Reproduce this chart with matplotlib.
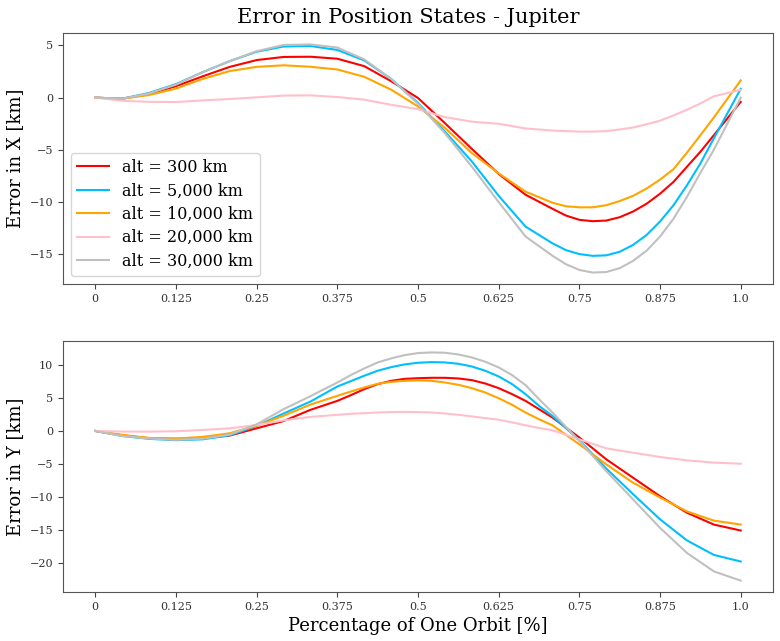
import matplotlib
matplotlib.use("Agg")
import matplotlib.pyplot as plt

plt.rcParams['font.family'] = ['DejaVu Serif']

labels = ["alt = 300 km", "alt = 5,000 km", "alt = 10,000 km",
          "alt = 20,000 km", "alt = 30,000 km"]
colors = ["red", "deepskyblue", "orange", "pink", "silver"]

# sample positions (fraction of one orbit) for the X-error panel
frac_top = [0.0, 0.041667, 0.083333, 0.125, 0.166667, 0.208333, 0.25, 0.291667, 0.333333,
            0.375, 0.416667, 0.458333, 0.5, 0.541667, 0.583333, 0.625, 0.666667,
            0.708333, 0.729167, 0.75, 0.770833, 0.791667, 0.8125, 0.833333, 0.854167,
            0.875, 0.895833, 0.916667, 0.9375, 0.958333, 1.0]

err_x_300 = [0, -0.1, 0.35, 1.1, 2.05, 2.95, 3.6, 3.9, 3.92, 3.73, 3.02, 1.58, -0.03,
             -2.44, -4.9, -7.3, -9.3,
             -10.64, -11.29, -11.7, -11.83, -11.77, -11.45, -10.9, -10.16, -9.2, -8.07,
             -6.62, -5.18, -3.6, -0.4]
err_x_5000 = [0, -0.1, 0.45, 1.3, 2.45, 3.5, 4.4, 4.9, 4.95, 4.57, 3.57, 1.8, -0.5,
              -3.25, -6.1, -9.4, -12.35,
              -13.95, -14.6, -14.98, -15.15, -15.1, -14.76, -14.1, -13.15, -11.86, -10.3,
              -8.4, -6.3, -3.9, 0.85]
err_x_10000 = [0, -0.1, 0.25, 0.87, 1.8, 2.55, 2.95, 3.1, 2.96, 2.7, 2.0, 0.77, -0.84,
               -2.9, -5.3, -7.25, -9.0,
               -10.06, -10.4, -10.5, -10.5, -10.3, -9.9, -9.4, -8.7, -7.85, -6.85,
               -5.27, -3.6, -1.9, 1.65]
err_x_20000 = [0, -0.3, -0.4, -0.42, -0.26, -0.13, 0.03, 0.2, 0.22, 0.06, -0.19, -0.68, -1.1,
               -1.86, -2.3, -2.5, -2.95,
               -3.15, -3.2, -3.25, -3.25, -3.2, -3.05, -2.86, -2.55, -2.2, -1.7,
               -1.16, -0.55, 0.13, 0.75]
err_x_30000 = [0, -0.1, 0.4, 1.25, 2.45, 3.5, 4.45, 5.05, 5.1, 4.8, 3.67, 1.8, -0.58,
               -3.4, -6.6, -10.0, -13.3,
               -15.14, -15.95, -16.5, -16.75, -16.7, -16.33, -15.63, -14.66, -13.3, -11.6,
               -9.5, -7.2, -5.0, 0.0]

# sample positions for the Y-error panel
frac_bottom = [0.0, 0.041667, 0.083333, 0.125, 0.166667, 0.208333, 0.25, 0.291667, 0.333333,
               0.375, 0.395833, 0.416667, 0.4375, 0.458333, 0.479167, 0.5, 0.520833,
               0.541667, 0.5625, 0.583333, 0.604167, 0.625, 0.645833, 0.666667, 0.6875,
               0.708333, 0.75, 0.791667, 0.833333, 0.875, 0.916667, 0.958333, 1.0]

err_y_300 = [0, -0.66, -1.1, -1.2, -1.1, -0.7, 0.4, 1.5, 3.2,
             4.56, 5.42, 6.34, 7.1, 7.6, 7.9, 8.0, 8.06, 8.06, 7.96, 7.71, 7.2, 6.49,
             5.58, 4.56, 3.3, 2.03,
             -1.0, -4.3, -7.1, -9.9, -12.4, -14.2, -15.1]
err_y_5000 = [0, -0.76, -1.2, -1.4, -1.27, -0.66, 0.76, 2.64, 4.46,
              6.74, 7.55, 8.37, 9.13, 9.68, 10.09, 10.34, 10.44, 10.39, 10.19, 9.78, 9.13,
              8.27, 7.1, 5.58, 3.8, 2.28,
              -1.42, -5.7, -9.6, -13.4, -16.6, -18.8, -19.8]
err_y_10000 = [0, -0.6, -1.06, -1.15, -0.9, -0.35, 0.8, 2.3, 4.0,
               5.32, 5.98, 6.59, 7.15, 7.45, 7.6, 7.66, 7.6, 7.35, 7.0, 6.49, 5.83,
               4.97, 3.96, 2.79, 1.77, 0.86,
               -2.03, -5.07, -7.86, -10.1, -12.2, -13.6, -14.2]
err_y_20000 = [0, -0.1, -0.1, -0.05, 0.15, 0.4, 0.9, 1.6, 2.13,
               2.45, 2.6, 2.7, 2.8, 2.86, 2.89, 2.86, 2.8, 2.65, 2.45, 2.2, 1.95,
               1.7, 1.3, 0.85, 0.45, 0.1,
               -1.27, -2.64, -3.3, -3.95, -4.46, -4.8, -4.97]
err_y_30000 = [0, -0.76, -1.15, -1.35, -1.17, -0.55, 1.0, 3.3, 5.27,
               7.35, 8.47, 9.48, 10.39, 11.0, 11.5, 11.81, 11.91, 11.86, 11.6, 11.15, 10.5,
               9.63, 8.47, 6.95, 4.82, 2.79,
               -1.52, -6.1, -10.4, -14.7, -18.5, -21.3, -22.7]

x_series = [err_x_300, err_x_5000, err_x_10000, err_x_20000, err_x_30000]
y_series = [err_y_300, err_y_5000, err_y_10000, err_y_20000, err_y_30000]

xtick_vals = [0, 0.125, 0.25, 0.375, 0.5, 0.625, 0.75, 0.875, 1.0]
xtick_labels = ["0", "0.125", "0.25", "0.375", "0.5", "0.625", "0.75", "0.875", "1.0"]

fig = plt.figure(figsize=(7.8, 6.41), dpi=100)
ax1 = fig.add_axes([0.0808, 0.557, 0.9102, 0.3915])
ax2 = fig.add_axes([0.0808, 0.0764, 0.9102, 0.3916])

for ax, frac, series in ((ax1, frac_top, x_series), (ax2, frac_bottom, y_series)):
    for vals, lab, col in zip(series, labels, colors):
        ax.plot(frac, vals, color=col, lw=1.5, label=lab)
    ax.set_xticks(xtick_vals)
    ax.set_xticklabels(xtick_labels)
    ax.tick_params(labelsize=8, colors='#444444', labelcolor='#333333')
    for sp in ax.spines.values():
        sp.set_color('#555555')

ax1.set_ylabel("Error in X [km]", fontsize=13)
ax2.set_ylabel("Error in Y [km]", fontsize=13)
ax2.set_xlabel("Percentage of One Orbit [%]", fontsize=13, labelpad=4)
ax1.legend(loc='lower left', fontsize=11.5, framealpha=0.8, handlelength=2.0,
           labelspacing=0.4)

fig.text(0.524, 0.973, "Error in Position States - Jupiter", fontsize=15,
         ha='center', va='center')

fig.savefig("out.png", dpi=100)
